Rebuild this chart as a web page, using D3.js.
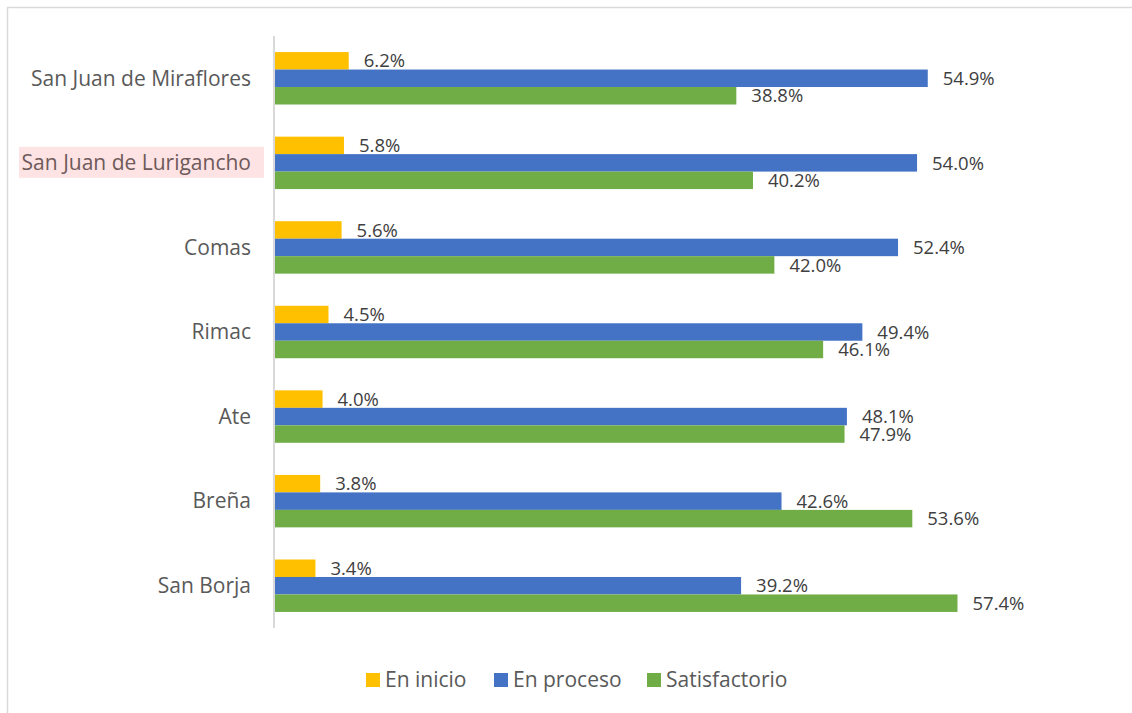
<!DOCTYPE html>
<html>
<head>
<meta charset="utf-8">
<script src="https://cdn.jsdelivr.net/npm/d3@7"></script>
<style>
  body { margin: 0; background: #fff; }
  svg { display: block; font-family: "Open Sans", "Noto Sans", sans-serif; }
</style>
</head>
<body>
<svg id="chart" width="1132" height="713"></svg>
<script>
const categories = ['San Juan de Miraflores', 'San Juan de Lurigancho', 'Comas', 'Rimac', 'Ate', 'Breña', 'San Borja'];
const seriesNames = ['En inicio', 'En proceso', 'Satisfactorio'];
const enInicio = [6.2, 5.8, 5.6, 4.5, 4.0, 3.8, 3.4];
const enProceso = [54.9, 54.0, 52.4, 49.4, 48.1, 42.6, 39.2];
const satisfactorio = [38.8, 40.2, 42.0, 46.1, 47.9, 53.6, 57.4];
const colors = ['#FFC000', '#4472C4', '#70AD47'];
const highlighted = 'San Juan de Lurigancho';

const svg = d3.select('#chart');
const width = 1132;
const height = 713;
const margin = { top: 36, bottom: 85, left: 275 };

// frame (only left and top edges visible in the picture)
svg.append('rect')
  .attr('x', 7.5).attr('y', 7.5)
  .attr('width', width + 20).attr('height', height + 20)
  .attr('fill', 'none').attr('stroke', '#d9d9d9').attr('stroke-width', 1.5);

const values = [enInicio, enProceso, satisfactorio];
const data = categories.map((c, i) => ({
  cat: c,
  vals: seriesNames.map((s, j) => ({ series: s, value: values[j][i], color: colors[j] }))
}));

const yScale = d3.scaleBand()
  .domain(categories)
  .range([margin.top, height - margin.bottom])
  .paddingInner(0.38)
  .paddingOuter(0.19);

const ySub = d3.scaleBand()
  .domain(seriesNames)
  .range([0, yScale.bandwidth()]);

const xScale = d3.scaleLinear()
  .domain([0, 60])
  .range([margin.left, margin.left + 60 * 11.89]);

const groups = svg.selectAll('g.cat')
  .data(data)
  .enter().append('g')
  .attr('class', 'cat')
  .attr('transform', d => `translate(0, ${yScale(d.cat)})`);

groups.selectAll('rect')
  .data(d => d.vals)
  .enter().append('rect')
  .attr('x', xScale(0))
  .attr('y', d => ySub(d.series))
  .attr('width', d => xScale(d.value) - xScale(0))
  .attr('height', ySub.bandwidth())
  .attr('fill', d => d.color);

groups.selectAll('text.val')
  .data(d => d.vals)
  .enter().append('text')
  .attr('class', 'val')
  .attr('x', d => xScale(d.value) + 15)
  .attr('y', d => ySub(d.series) + ySub.bandwidth() / 2)
  .attr('dy', '0.36em')
  .attr('font-size', 18.5)
  .attr('fill', '#404040')
  .text(d => d.value.toFixed(1) + '%');

// category labels
const labelX = 251;
categories.forEach(c => {
  const cy = yScale(c) + yScale.bandwidth() / 2;
  if (c === highlighted) {
    svg.append('rect')
      .attr('x', 19).attr('y', cy - 16)
      .attr('width', 245).attr('height', 31)
      .attr('fill', '#fde3e3');
  }
  svg.append('text')
    .attr('x', labelX)
    .attr('y', cy)
    .attr('dy', '0.35em')
    .attr('text-anchor', 'end')
    .attr('font-size', 21)
    .attr('fill', c === highlighted ? '#6e5a5a' : '#595959')
    .text(c);
});

// axis line
svg.append('line')
  .attr('x1', xScale(0) - 1).attr('x2', xScale(0) - 1)
  .attr('y1', margin.top).attr('y2', height - margin.bottom)
  .attr('stroke', '#d9d9d9').attr('stroke-width', 2);

// legend
const legendX = [366, 494, 647];
const legend = svg.append('g').attr('transform', 'translate(0, 680)');
seriesNames.forEach((s, i) => {
  legend.append('rect')
    .attr('x', legendX[i]).attr('y', -7)
    .attr('width', 14).attr('height', 14)
    .attr('fill', colors[i]);
  legend.append('text')
    .attr('x', legendX[i] + 19)
    .attr('y', 0)
    .attr('dy', '0.35em')
    .attr('font-size', 21)
    .attr('fill', '#595959')
    .text(s);
});
</script>
</body>
</html>
